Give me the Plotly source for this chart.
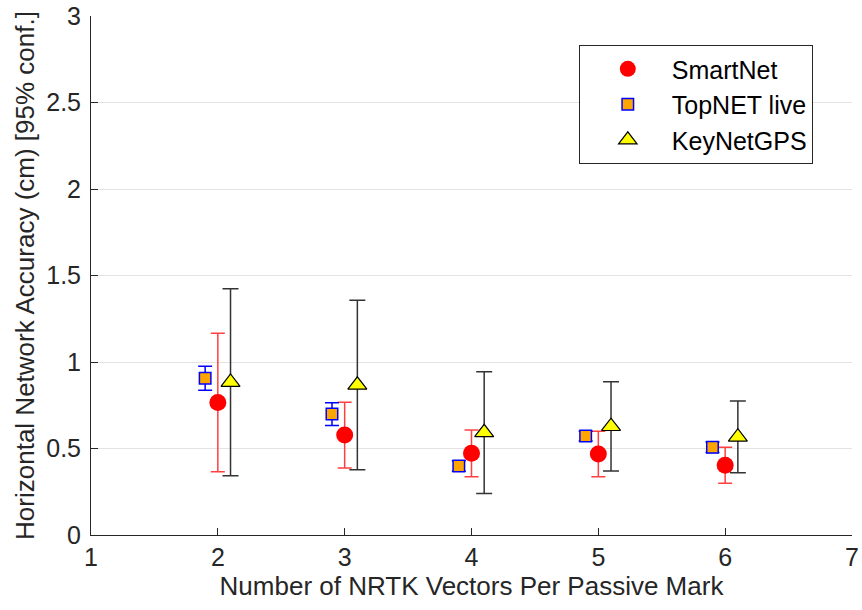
import plotly.graph_objects as go

# Data
smartnet_x = [2, 3, 4, 5, 6]
smartnet_y = [0.766, 0.578, 0.472, 0.468, 0.403]
smartnet_err = [0.400, 0.190, 0.135, 0.132, 0.104]

topnet_x = [1.9, 2.9, 3.9, 4.9, 5.9]
topnet_y = [0.906, 0.699, 0.399, 0.572, 0.507]
topnet_err = [0.069, 0.066, 0.030, 0.028, 0.030]

keynet_x = [2.1, 3.1, 4.1, 5.1, 6.1]
keynet_y = [0.883, 0.867, 0.592, 0.628, 0.567]
keynet_err = [0.540, 0.490, 0.352, 0.258, 0.207]

x_ticks = [1, 2, 3, 4, 5, 6, 7]
y_ticks = [0, 0.5, 1, 1.5, 2, 2.5, 3]

FONT = "Liberation Sans, Arial, sans-serif"
AX = "#262626"

fig = go.Figure()
fig.add_trace(go.Scatter(
    x=smartnet_x, y=smartnet_y, mode="markers", name="SmartNet",
    marker=dict(symbol="circle", size=17, color="#ff0000", line=dict(width=0)),
    error_y=dict(type="data", array=smartnet_err, color="#ff4040", thickness=1.5, width=7),
))
fig.add_trace(go.Scatter(
    x=topnet_x, y=topnet_y, mode="markers", name="TopNET live",
    marker=dict(symbol="square", size=11.5, color="#ffa500", line=dict(width=1.5, color="#0000ff")),
    error_y=dict(type="data", array=topnet_err, color="#0000ff", thickness=1.5, width=7),
))
fig.add_trace(go.Scatter(
    x=keynet_x, y=keynet_y, mode="markers", name="KeyNetGPS",
    marker=dict(symbol="triangle-up", size=16.5, color="#ffff00", line=dict(width=1.2, color="#000000")),
    error_y=dict(type="data", array=keynet_err, color="#333333", thickness=1.5, width=8),
))

fig.update_layout(
    width=862, height=610,
    margin=dict(l=91, r=10, t=16, b=75),
    paper_bgcolor="white", plot_bgcolor="white",
    font=dict(family=FONT, size=25, color=AX),
    showlegend=True,
    legend=dict(
        x=0.641, y=0.944, xanchor="left", yanchor="top",
        bgcolor="white", bordercolor=AX, borderwidth=1,
        font=dict(family=FONT, size=25, color="#000000"),
        indentation=4, itemwidth=78, tracegroupgap=0,
    ),
    xaxis=dict(
        range=[1, 7], tickvals=x_ticks, ticktext=[str(v) for v in x_ticks],
        ticks="inside", ticklen=7, tickcolor=AX, showline=True, linecolor=AX, linewidth=1,
        showgrid=False, zeroline=False, mirror=False,
        tickfont=dict(family=FONT, size=25, color=AX),
        title=dict(text="Number of NRTK Vectors Per Passive Mark", standoff=6,
                   font=dict(family=FONT, size=26, color=AX)),
        automargin=False,
    ),
    yaxis=dict(
        range=[0, 3], tickvals=y_ticks, ticktext=["0", "0.5", "1", "1.5", "2", "2.5", "3"],
        ticks="inside", ticklen=7, tickcolor=AX, showline=True, linecolor=AX, linewidth=1,
        showgrid=True, gridcolor="#e3e3e3", gridwidth=1, zeroline=False, mirror=False,
        tickfont=dict(family=FONT, size=25, color=AX),
        ticklabelstandoff=4,
        title=dict(text="Horizontal Network Accuracy (cm) [95% conf.]", standoff=4,
                   font=dict(family=FONT, size=26, color=AX)),
        automargin=False,
    ),
)

fig.write_html("out.html")
